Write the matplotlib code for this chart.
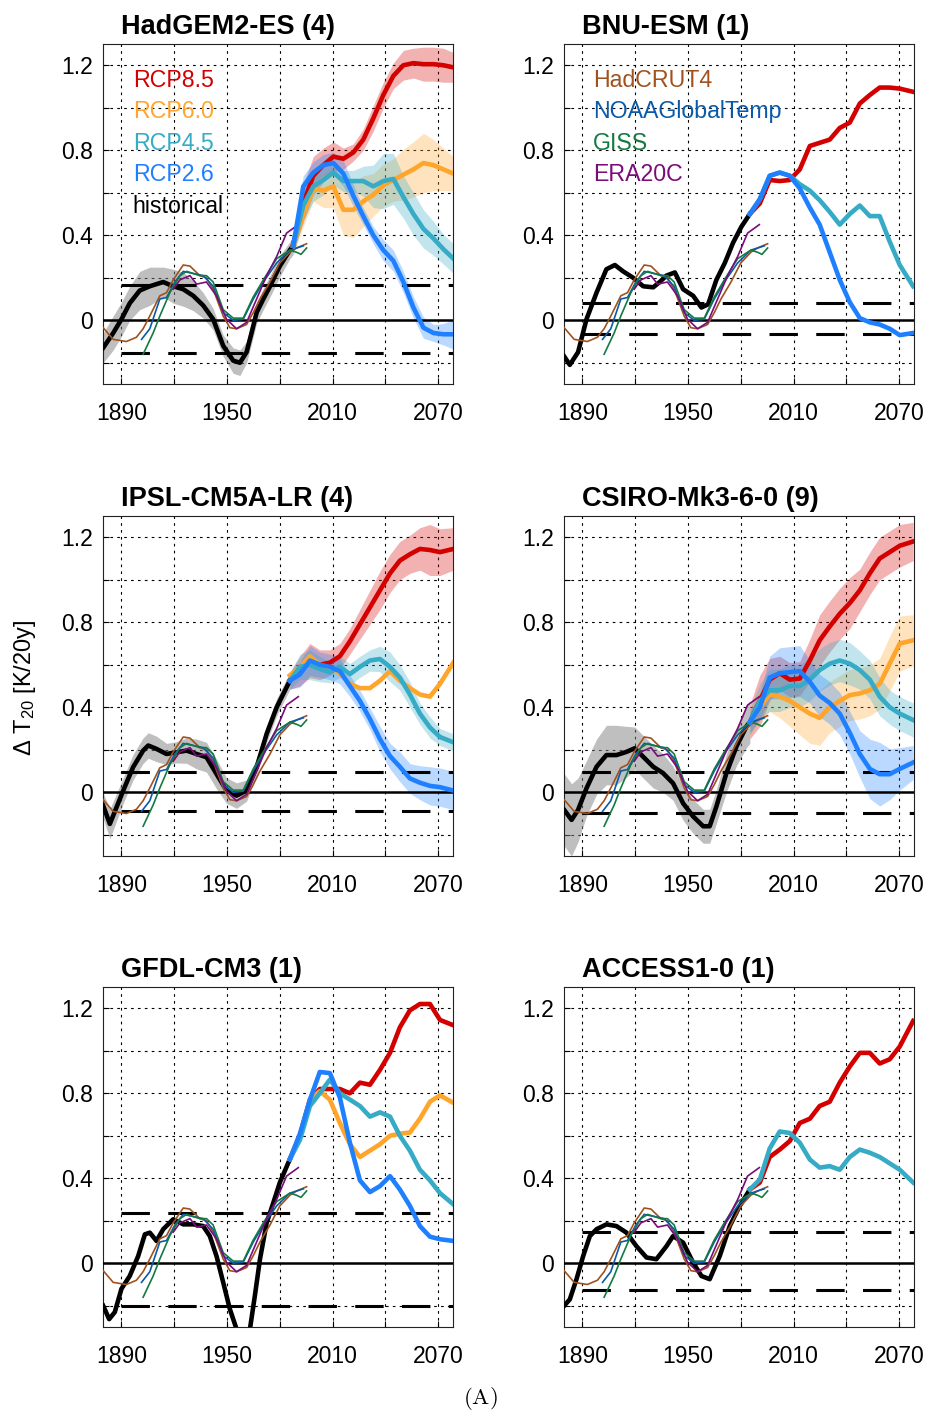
import numpy as np
import matplotlib.pyplot as plt

plt.rcParams['font.family'] = ['Liberation Sans', 'DejaVu Sans']
plt.rcParams['mathtext.fontset'] = 'custom'
plt.rcParams['mathtext.rm'] = 'Liberation Sans'
plt.rcParams['mathtext.it'] = 'Liberation Sans:italic'

# ---- observations (same in every panel) ----
hadcrut4_yr = [1879.6, 1885.3, 1892.8, 1898.5, 1902.3, 1906.1, 1911.8, 1915.6, 1919.4, 1925.1, 1928.9,
               1934.5, 1938.3, 1942.1, 1947.8, 1951.6, 1955.4, 1961.1, 1964.9, 1968.7, 1974.4, 1980.0,
               1985.7, 1989.5, 1995.2]
hadcrut4 = [-0.035, -0.09, -0.1, -0.08, -0.04, 0.02, 0.115, 0.13, 0.19, 0.26, 0.255,
            0.21, 0.2, 0.146, 0.02, -0.035, -0.04, -0.02, 0.036, 0.1, 0.18, 0.27,
            0.32, 0.34, 0.36]
noaa_yr = [1901.4, 1906.1, 1911.8, 1915.6, 1920.3, 1925.1, 1930.8, 1936.4, 1942.1, 1947.8, 1953.5,
           1959.2, 1964.9, 1970.6, 1978.2, 1985.7, 1993.3]
noaa = [-0.09, -0.04, 0.1, 0.107, 0.18, 0.23, 0.22, 0.21, 0.16, 0.036, 0.0,
        0.005, 0.1, 0.18, 0.27, 0.33, 0.35]
giss_yr = [1902.3, 1908.0, 1911.8, 1917.5, 1923.2, 1927.0, 1934.5, 1938.3, 1942.1, 1947.8, 1953.5,
           1959.2, 1964.9, 1970.6, 1978.2, 1985.7, 1989.5, 1992.0, 1995.2]
giss = [-0.16, -0.06, 0.02, 0.13, 0.21, 0.23, 0.21, 0.21, 0.18, 0.05, 0.01,
        0.01, 0.11, 0.19, 0.29, 0.33, 0.32, 0.31, 0.34]
era20c_yr = [1919.4, 1923.2, 1928.9, 1932.7, 1938.3, 1944.0, 1949.7, 1955.4, 1961.1, 1966.8, 1972.5,
             1978.2, 1983.8, 1990.5]
era20c = [0.146, 0.19, 0.21, 0.17, 0.18, 0.115, 0.005, -0.04, -0.01, 0.1, 0.21,
          0.3, 0.41, 0.45]

# ---- HadGEM2-ES (4) ----
had_hist_yr = [1879.6, 1885.3, 1890.0, 1894.7, 1900.4, 1906.1, 1913.7, 1919.4, 1925.1, 1930.8, 1936.4,
               1942.1, 1947.8, 1953.5, 1957.3, 1961.1, 1963.9, 1966.8, 1970.6, 1974.4, 1980.0, 1985.7, 1987.6]
had_hist = [-0.13, -0.06, 0.005, 0.08, 0.14, 0.16, 0.18, 0.16, 0.146, 0.115, 0.07,
            0.005, -0.12, -0.19, -0.2, -0.15, -0.06, 0.036, 0.1, 0.16, 0.255, 0.33, 0.35]
had_hist_sd = [0.07, 0.08, 0.08, 0.08, 0.09, 0.09, 0.07, 0.08, 0.08, 0.07, 0.06,
               0.05, 0.05, 0.06, 0.06, 0.05, 0.05, 0.05, 0.05, 0.05, 0.05, 0.04, 0.04]
had_rcp_yr = [1987.6, 1993.3, 1999.0, 2004.7, 2010.4, 2016.1, 2021.8, 2027.4, 2033.1, 2038.8, 2044.5,
              2050.2, 2055.9, 2061.6, 2067.3, 2072.9, 2078.6]
had_rcp85 = [0.36, 0.55, 0.68, 0.73, 0.77, 0.76, 0.79, 0.85, 0.95, 1.06, 1.15, 1.2, 1.21, 1.205, 1.205, 1.2, 1.19]
had_rcp85_sd = [0.04, 0.09, 0.09, 0.08, 0.07, 0.05, 0.04, 0.05, 0.06, 0.06, 0.06, 0.07, 0.07, 0.08, 0.08, 0.08, 0.07]
had_rcp60 = [0.35, 0.5, 0.62, 0.61, 0.63, 0.52, 0.52, 0.56, 0.59, 0.635, 0.66, 0.685, 0.71, 0.74, 0.73, 0.71, 0.69]
had_rcp60_sd = [0.04, 0.06, 0.06, 0.08, 0.1, 0.12, 0.13, 0.12, 0.1, 0.1, 0.1, 0.12, 0.13, 0.14, 0.12, 0.1, 0.08]
had_rcp45 = [0.35, 0.54, 0.63, 0.66, 0.695, 0.655, 0.655, 0.655, 0.63, 0.655, 0.665, 0.58, 0.5, 0.43, 0.385, 0.335, 0.29]
had_rcp45_sd = [0.04, 0.07, 0.07, 0.07, 0.06, 0.05, 0.05, 0.07, 0.1, 0.13, 0.12, 0.1, 0.1, 0.09, 0.08, 0.07, 0.07]
had_rcp26 = [0.35, 0.63, 0.695, 0.73, 0.74, 0.69, 0.585, 0.49, 0.4, 0.33, 0.28, 0.18, 0.06, -0.035, -0.06, -0.066, -0.066]
had_rcp26_sd = [0.03, 0.05, 0.05, 0.05, 0.05, 0.06, 0.05, 0.04, 0.04, 0.05, 0.05, 0.05, 0.05, 0.05, 0.04, 0.05, 0.07]
had_band = [0.166, -0.152]

# ---- BNU-ESM (1) ----
bnu_hist_yr = [1879.6, 1882.8, 1887.5, 1892.3, 1898.0, 1903.6, 1908.4, 1913.1, 1918.8, 1924.5, 1930.2,
               1933.9, 1937.7, 1942.5, 1947.2, 1952.9, 1957.6, 1961.4, 1966.1, 1970.9, 1975.6, 1980.3, 1985.1]
bnu_hist = [-0.17, -0.21, -0.15, 0.005, 0.13, 0.24, 0.26, 0.23, 0.2, 0.16, 0.155,
            0.18, 0.21, 0.225, 0.146, 0.115, 0.06, 0.075, 0.19, 0.27, 0.365, 0.44, 0.5]
bnu_rcp_yr = [1985.1, 1990.8, 1996.4, 2002.1, 2007.8, 2013.5, 2019.2, 2024.8, 2030.5, 2036.2, 2041.9,
              2047.6, 2053.3, 2058.9, 2064.6, 2070.3, 2077.9]
bnu_rcp85 = [0.5, 0.55, 0.66, 0.655, 0.66, 0.71, 0.82, 0.835, 0.85, 0.905, 0.93, 1.02, 1.06, 1.095, 1.095, 1.09, 1.075]
bnu_rcp45 = [0.5, 0.57, 0.68, 0.695, 0.68, 0.64, 0.61, 0.565, 0.51, 0.45, 0.5, 0.54, 0.49, 0.49, 0.37, 0.26, 0.16]
bnu_rcp26 = [0.5, 0.57, 0.68, 0.695, 0.68, 0.62, 0.53, 0.45, 0.32, 0.19, 0.085, 0.01, -0.01, -0.02, -0.04, -0.07, -0.06]
bnu_band = [0.083, -0.066]

# ---- IPSL-CM5A-LR (4) ----
ipsl_hist_yr = [1879.6, 1883.4, 1891.0, 1896.6, 1902.3, 1905.2, 1909.9, 1915.6, 1921.3, 1927.0, 1932.7,
                1938.3, 1944.0, 1949.7, 1955.4, 1961.1, 1966.8, 1972.5, 1978.2, 1985.7]
ipsl_hist = [-0.063, -0.149, 0.008, 0.118, 0.196, 0.22, 0.204, 0.18, 0.188, 0.196, 0.18,
             0.165, 0.086, 0.008, -0.016, 0.008, 0.118, 0.275, 0.4, 0.525]
ipsl_hist_sd = [0.06, 0.07, 0.06, 0.06, 0.06, 0.06, 0.06, 0.05, 0.05, 0.06, 0.07,
                0.07, 0.07, 0.06, 0.06, 0.05, 0.04, 0.04, 0.04, 0.04]
ipsl_rcp_yr = [1985.7, 1991.4, 1997.1, 2002.7, 2008.4, 2014.1, 2019.8, 2025.5, 2031.2, 2036.9, 2042.6,
               2048.2, 2053.9, 2059.6, 2065.3, 2071.0, 2078.6]
ipsl_rcp85 = [0.525, 0.57, 0.62, 0.6, 0.61, 0.64, 0.71, 0.79, 0.87, 0.95, 1.03, 1.09, 1.12, 1.145, 1.14, 1.13, 1.145]
ipsl_rcp85_sd = [0.04, 0.07, 0.08, 0.07, 0.06, 0.06, 0.06, 0.07, 0.08, 0.09, 0.09, 0.09, 0.09, 0.1, 0.12, 0.11, 0.1]
ipsl_rcp60 = [0.55, 0.59, 0.64, 0.6, 0.58, 0.56, 0.51, 0.49, 0.49, 0.525, 0.57, 0.525, 0.49, 0.46, 0.45, 0.51, 0.61]
ipsl_rcp45 = [0.525, 0.59, 0.6, 0.58, 0.565, 0.59, 0.556, 0.59, 0.62, 0.627, 0.59, 0.54, 0.46, 0.37, 0.305, 0.26, 0.235]
ipsl_rcp45_sd = [0.04, 0.06, 0.07, 0.06, 0.05, 0.05, 0.05, 0.05, 0.05, 0.06, 0.07, 0.06, 0.06, 0.05, 0.05, 0.04, 0.04]
ipsl_rcp26 = [0.525, 0.555, 0.62, 0.6, 0.59, 0.57, 0.5, 0.43, 0.345, 0.25, 0.17, 0.12, 0.065, 0.045, 0.03, 0.024, 0.008]
ipsl_rcp26_sd = [0.04, 0.06, 0.07, 0.06, 0.06, 0.06, 0.05, 0.05, 0.05, 0.06, 0.06, 0.07, 0.07, 0.08, 0.09, 0.09, 0.09]
ipsl_band = [0.094, -0.09]

# ---- CSIRO-Mk3-6-0 (9) ----
csiro_hist_yr = [1879.6, 1883.8, 1887.5, 1892.3, 1898.0, 1903.6, 1909.3, 1915.0, 1919.7, 1924.5, 1930.2,
                 1935.8, 1941.5, 1947.2, 1952.9, 1958.6, 1962.3, 1966.1, 1971.8, 1977.5, 1983.2, 1985.1]
csiro_hist = [-0.083, -0.13, -0.083, 0.019, 0.12, 0.175, 0.175, 0.19, 0.207, 0.167, 0.12,
              0.09, 0.042, -0.052, -0.114, -0.16, -0.16, -0.067, 0.09, 0.215, 0.31, 0.33]
csiro_hist_sd = [0.17, 0.17, 0.15, 0.13, 0.13, 0.14, 0.14, 0.12, 0.1, 0.1, 0.1,
                 0.09, 0.08, 0.08, 0.08, 0.08, 0.08, 0.08, 0.09, 0.09, 0.1, 0.1]
csiro_rcp_yr = [1985.1, 1990.8, 1996.4, 2002.1, 2007.8, 2013.5, 2019.2, 2024.8, 2030.5, 2036.2, 2041.9,
                2047.6, 2053.3, 2058.9, 2064.6, 2070.3, 2077.9]
csiro_rcp85 = [0.33, 0.43, 0.53, 0.56, 0.53, 0.535, 0.62, 0.715, 0.78, 0.84, 0.89, 0.95, 1.03, 1.1, 1.13, 1.16, 1.18]
csiro_rcp85_sd = [0.08, 0.12, 0.1, 0.08, 0.08, 0.08, 0.1, 0.12, 0.12, 0.12, 0.12, 0.1, 0.1, 0.1, 0.1, 0.1, 0.09]
csiro_rcp60 = [0.33, 0.4, 0.46, 0.45, 0.43, 0.4, 0.37, 0.35, 0.4, 0.43, 0.457, 0.465, 0.48, 0.51, 0.605, 0.7, 0.715]
csiro_rcp60_sd = [0.06, 0.07, 0.08, 0.1, 0.12, 0.13, 0.14, 0.13, 0.12, 0.12, 0.12, 0.12, 0.12, 0.12, 0.13, 0.13, 0.12]
csiro_rcp45 = [0.33, 0.43, 0.48, 0.48, 0.5, 0.5, 0.53, 0.575, 0.605, 0.62, 0.605, 0.575, 0.53, 0.45, 0.4, 0.37, 0.34]
csiro_rcp45_sd = [0.06, 0.08, 0.1, 0.1, 0.1, 0.1, 0.1, 0.1, 0.1, 0.1, 0.1, 0.09, 0.09, 0.09, 0.08, 0.08, 0.08]
csiro_rcp26 = [0.33, 0.4, 0.54, 0.56, 0.565, 0.57, 0.52, 0.455, 0.42, 0.37, 0.28, 0.18, 0.11, 0.085, 0.085, 0.11, 0.14]
csiro_rcp26_sd = [0.05, 0.06, 0.1, 0.12, 0.12, 0.12, 0.1, 0.1, 0.1, 0.1, 0.1, 0.11, 0.14, 0.15, 0.12, 0.1, 0.08]
csiro_band = [0.097, -0.099]

# ---- GFDL-CM3 (1) ----
gfdl_hist_yr = [1879.6, 1883.0, 1886.2, 1890.0, 1894.7, 1899.5, 1903.3, 1906.1, 1909.9, 1913.7, 1919.4,
                1925.1, 1930.8, 1936.4, 1940.2, 1944.0, 1947.8, 1951.6, 1955.4, 1959.2, 1963.0, 1965.8,
                1968.7, 1972.5, 1976.3, 1980.0, 1985.7]
gfdl_hist = [-0.2, -0.263, -0.23, -0.12, -0.06, 0.034, 0.136, 0.144, 0.105, 0.16, 0.207,
             0.183, 0.183, 0.175, 0.128, 0.034, -0.09, -0.216, -0.31, -0.37, -0.31, -0.153,
             0.019, 0.19, 0.285, 0.38, 0.49]
gfdl_rcp_yr = ipsl_rcp_yr
gfdl_rcp85 = [0.49, 0.6, 0.77, 0.82, 0.82, 0.82, 0.8, 0.85, 0.84, 0.91, 0.99, 1.11, 1.19, 1.22, 1.22, 1.145, 1.12]
gfdl_rcp60 = [0.49, 0.6, 0.77, 0.81, 0.77, 0.66, 0.56, 0.5, 0.53, 0.56, 0.6, 0.61, 0.615, 0.68, 0.76, 0.79, 0.755]
gfdl_rcp45 = [0.49, 0.58, 0.74, 0.8, 0.864, 0.8, 0.77, 0.74, 0.69, 0.71, 0.69, 0.6, 0.53, 0.44, 0.39, 0.33, 0.277]
gfdl_rcp26 = [0.49, 0.61, 0.77, 0.9, 0.895, 0.78, 0.567, 0.39, 0.335, 0.363, 0.41, 0.347, 0.27, 0.175, 0.125, 0.113, 0.105]
gfdl_band = [0.236, -0.199]

# ---- ACCESS1-0 (1) ----
access_hist_yr = [1879.6, 1882.8, 1886.6, 1890.4, 1894.2, 1898.0, 1903.6, 1909.3, 1915.0, 1920.7, 1926.4,
                  1932.0, 1937.7, 1941.5, 1947.2, 1952.9, 1957.6, 1962.3, 1968.0, 1973.7, 1979.4, 1985.1]
access_hist = [-0.2, -0.17, -0.075, 0.034, 0.128, 0.16, 0.183, 0.175, 0.144, 0.08, 0.027,
               0.019, 0.08, 0.128, 0.097, 0.003, -0.06, -0.075, 0.034, 0.175, 0.27, 0.347]
access_rcp_yr = csiro_rcp_yr
access_rcp85 = [0.347, 0.38, 0.5, 0.535, 0.575, 0.66, 0.68, 0.74, 0.76, 0.85, 0.926, 0.99, 0.99, 0.94, 0.96, 1.02, 1.14]
access_rcp45 = [0.347, 0.394, 0.54, 0.62, 0.613, 0.567, 0.488, 0.45, 0.457, 0.44, 0.5, 0.535, 0.52, 0.5, 0.47, 0.44, 0.38]
access_band = [0.149, -0.124]

C85, C60, C45, C26 = '#d40000', '#ffa52c', '#36abc6', '#1f80ff'
C_HAD, C_NOAA, C_GISS, C_ERA = '#a0521e', '#0a5aab', '#147a42', '#7a0c7a'

fig = plt.figure(figsize=(9.27, 14.16), dpi=100)
lefts = [103 / 927, 564 / 927]
bottoms = [1 - 384 / 1416, 1 - 856 / 1416, 1 - 1327 / 1416]
W, H = 350 / 927, 340 / 1416


def draw_panel(ax, title, hist_yr, hist, hist_sd, rcp_yr, rcps, band):
    ax.set_xlim(1879.5, 2078.4)
    ax.set_ylim(-0.3, 1.3)
    ax.set_xticks(np.arange(1890, 2071, 30))
    ax.set_xticklabels(['1890', '', '1950', '', '2010', '', '2070'])
    ax.set_yticks(np.arange(-0.2, 1.21, 0.2))
    ax.set_yticklabels(['', '0', '', '0.4', '', '0.8', '', '1.2'])
    ax.tick_params(direction='in', length=4, width=0.8, labelsize=16.5)
    ax.tick_params(axis='x', pad=13)
    ax.tick_params(axis='y', pad=7)
    ax.grid(True, color='k', lw=0.8, linestyle=(0, (2.4, 3.8)))
    ax.set_axisbelow(True)
    for s in ax.spines.values():
        s.set_linewidth(0.8)
        s.set_color('#222222')

    ax.text(18 / 350, 1.028, title, transform=ax.transAxes, fontsize=19.5,
            fontweight='bold', va='baseline', ha='left')

    # spread bands
    if hist_sd is not None:
        h = np.array(hist)
        sd = np.array(hist_sd)
        ax.fill_between(hist_yr, h - sd, h + sd, color='#808080', alpha=0.5, lw=0, zorder=2)
    for vals, sd, col in rcps:
        if sd is not None:
            v = np.array(vals)
            s = np.array(sd)
            ax.fill_between(rcp_yr, v - s, v + s, color=col, alpha=0.3, lw=0, zorder=2)

    ax.axhline(0, color='k', lw=1.8, zorder=3)
    for b in band:
        ax.plot([1890, 2078.4], [b, b], color='k', lw=2.2, dashes=(9.3, 6.0), zorder=3)

    ax.plot(hist_yr, hist, color='k', lw=3.3, zorder=4)
    ax.plot(hadcrut4_yr, hadcrut4, color=C_HAD, lw=1.2, zorder=5)
    ax.plot(noaa_yr, noaa, color=C_NOAA, lw=1.2, zorder=5)
    ax.plot(giss_yr, giss, color=C_GISS, lw=1.2, zorder=5)
    ax.plot(era20c_yr, era20c, color=C_ERA, lw=1.2, zorder=5)
    for vals, sd, col in rcps:
        ax.plot(rcp_yr, vals, color=col, lw=3.3, zorder=6)


axs = [[fig.add_axes([lefts[c], bottoms[r], W, H]) for c in range(2)] for r in range(3)]

draw_panel(axs[0][0], 'HadGEM2-ES (4)', had_hist_yr, had_hist, had_hist_sd, had_rcp_yr,
           [(had_rcp85, had_rcp85_sd, C85), (had_rcp60, had_rcp60_sd, C60),
            (had_rcp45, had_rcp45_sd, C45), (had_rcp26, had_rcp26_sd, C26)], had_band)
draw_panel(axs[0][1], 'BNU-ESM (1)', bnu_hist_yr, bnu_hist, None, bnu_rcp_yr,
           [(bnu_rcp85, None, C85), (bnu_rcp45, None, C45), (bnu_rcp26, None, C26)], bnu_band)
draw_panel(axs[1][0], 'IPSL-CM5A-LR (4)', ipsl_hist_yr, ipsl_hist, ipsl_hist_sd, ipsl_rcp_yr,
           [(ipsl_rcp85, ipsl_rcp85_sd, C85), (ipsl_rcp60, None, C60),
            (ipsl_rcp45, ipsl_rcp45_sd, C45), (ipsl_rcp26, ipsl_rcp26_sd, C26)], ipsl_band)
draw_panel(axs[1][1], 'CSIRO-Mk3-6-0 (9)', csiro_hist_yr, csiro_hist, csiro_hist_sd, csiro_rcp_yr,
           [(csiro_rcp85, csiro_rcp85_sd, C85), (csiro_rcp60, csiro_rcp60_sd, C60),
            (csiro_rcp45, csiro_rcp45_sd, C45), (csiro_rcp26, csiro_rcp26_sd, C26)], csiro_band)
draw_panel(axs[2][0], 'GFDL-CM3 (1)', gfdl_hist_yr, gfdl_hist, None, gfdl_rcp_yr,
           [(gfdl_rcp85, None, C85), (gfdl_rcp60, None, C60),
            (gfdl_rcp45, None, C45), (gfdl_rcp26, None, C26)], gfdl_band)
draw_panel(axs[2][1], 'ACCESS1-0 (1)', access_hist_yr, access_hist, None, access_rcp_yr,
           [(access_rcp85, None, C85), (access_rcp45, None, C45)], access_band)

# legends as coloured text
leg_y = [0.892, 0.801, 0.707, 0.616, 0.522]
for t, col, y in zip(['RCP8.5', 'RCP6.0', 'RCP4.5', 'RCP2.6', 'historical'],
                     [C85, C60, C45, C26, 'k'], leg_y):
    axs[0][0].text(0.085, y, t, color=col, fontsize=16.7, va='center', ha='left',
                   transform=axs[0][0].transAxes, zorder=7)
for t, col, y in zip(['HadCRUT4', 'NOAAGlobalTemp', 'GISS', 'ERA20C'],
                     [C_HAD, C_NOAA, C_GISS, C_ERA], leg_y):
    axs[0][1].text(0.082, y, t, color=col, fontsize=16.7, va='center', ha='left',
                   transform=axs[0][1].transAxes, zorder=7)

fig.text(0.027, 0.514, r'$\Delta$ T$_{20}$ [K/20y]', rotation=90, va='center', ha='center', fontsize=17)
fig.text(480 / 927, 1 - 1399 / 1416, r'$\mathrm{(A)}$', math_fontfamily='cm', fontsize=16.5,
         ha='center', va='center')

fig.savefig('out.png', dpi=100)
